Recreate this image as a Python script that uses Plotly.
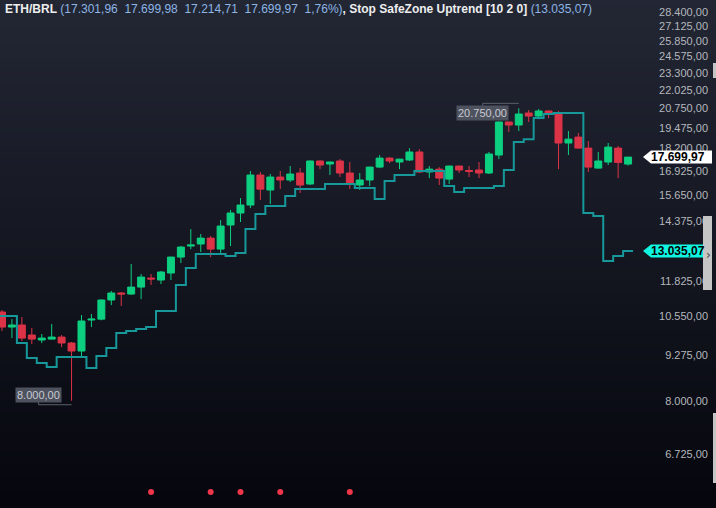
import math
import plotly.graph_objects as go

# ---------------- data ----------------
idx = list(range(64))

open_ = [10684, 10172, 10240, 9911, 9752, 9780, 9845, 9657, 9408, 10409,
         10438, 11110, 11366, 11329, 11587, 11932, 11858, 12131, 12778, 13246,
         13334, 13593, 13114, 14185, 14751, 15140, 16696, 15901, 16586, 16428,
         16806, 16214, 17477, 17305, 17477, 16806, 16160, 16428, 17134, 17642,
         17420, 17534, 17997, 16861, 17019, 16475, 17191, 16944, 16972, 16806,
         17820, 19845, 19650, 20435, 20233, 20570, 20435, 18532, 18894, 18227,
         17076, 17420, 18227, 17301.96]

high = [10754, 10438, 10508, 10138, 9944, 10273, 9911, 9688, 10578, 10614,
        11130, 11441, 11403, 12492, 12091, 12091, 12211, 12790, 13246, 13997,
        13775, 13684, 14420, 14897, 15487, 16917, 16862, 16751, 16917, 17191,
        17076, 17500, 17500, 17440, 17583, 17420, 16806, 17150, 17820, 17701,
        17600, 18227, 18166, 17191, 17134, 17210, 17210, 17191, 17420, 17997,
        19870, 19875, 20750, 20637, 20700, 20600, 20570, 19272, 19146, 18654,
        17997, 18532, 18349, 17699.98]

low = [10042, 9813, 9720, 9625, 9657, 9770, 9529, 8000, 9254, 10172,
       10400, 10929, 10893, 11291, 11141, 11664, 11703, 11858, 12533, 13114,
       12991, 12778, 12906, 13246, 14326, 14993, 15391, 15190, 15954, 16321,
       15746, 16160, 17019, 16696, 16586, 15954, 15901, 16107, 17076, 17362,
       17019, 17477, 16806, 16530, 16160, 16214, 16806, 16586, 16530, 16751,
       17583, 19209, 19272, 19845, 20031, 20099, 17019, 17820, 18200, 16861,
       17050, 17248, 16530, 17214.71]

close = [10172, 10240, 9813, 9780, 9813, 9845, 9657, 9408, 10375, 10438,
         11110, 11366, 11329, 11587, 11972, 11897, 12171, 12778, 13202, 13290,
         13593, 13114, 14138, 14751, 15140, 16696, 15946, 16586, 16428, 16751,
         16160, 17477, 17248, 17420, 16806, 16214, 16428, 17134, 17642, 17477,
         17583, 17997, 16861, 17019, 16530, 17191, 16972, 16889, 16806, 17879,
         19845, 19650, 20368, 20233, 20570, 20435, 18532, 18768, 18227, 17134,
         17477, 18288, 17394, 17699.97]

stop = [10545, 10545, 9657, 9193, 9048, 8928, 9223, 9223, 9223, 8898,
        9254, 9498, 9977, 10042, 10104, 10172, 10719, 10719, 11664, 12327,
        12906, 12906, 12906, 12821, 12948, 13997, 14702, 15090, 15090, 15590,
        15954, 15954, 15954, 16214, 16214, 16214, 16000, 16000, 15435, 16373,
        16696, 16696, 16917, 16917, 16917, 16107, 15797, 16000, 16000, 16000,
        16107, 16972, 18593, 18768, 20105, 20371, 20441, 20441, 20441, 14751,
        14604, 12616, 12821, 13035.07]

signal_idx = [15, 21, 24, 28, 35]

tick_vals = [6725, 8000, 9275, 10550, 11825, 14375, 15650, 16925, 18200,
             19475, 20750, 22025, 23300, 24575, 25850, 27125, 28400]

symbol = "ETH/BRL"
indicator = "Stop SafeZone Uptrend [10 2 0]"

# ---------------- helpers ----------------
W, H = 716, 508
Y_LO, Y_HI = 5640, 29537
yr = [math.log10(Y_LO), math.log10(Y_HI)]
XR = [-0.2, 64.2]
XDOM = 640 / W


def fmt(v):
    s = f"{v:,.2f}"
    return s.replace(",", "X").replace(".", ",").replace("X", ".")


def px(x):
    return x / W


def py(y):
    return 1 - y / H


def xp(i, dx=0.0):
    """paper x of candle index i, shifted by dx pixels"""
    return (i - XR[0]) / (XR[1] - XR[0]) * XDOM + dx / W


def yp(v, dy=0.0):
    """paper y of price v, shifted by dy pixels (positive = down)"""
    return (math.log10(v) - yr[0]) / (yr[1] - yr[0]) - dy / H


INC = "#0ccf80"
DEC = "#dc3347"
STOP = "#17989a"
BLUE = "#8db5e4"

fig = go.Figure()

fig.add_trace(go.Candlestick(
    x=idx, open=open_, high=high, low=low, close=close,
    increasing=dict(line=dict(color=INC, width=1), fillcolor=INC),
    decreasing=dict(line=dict(color=DEC, width=1), fillcolor=DEC),
    showlegend=False, hoverinfo="skip",
))

# step line: each value spans its candle slot
xs = [i - 0.5 for i in idx] + [idx[-1] + 0.5]
ys = stop + [stop[-1]]
fig.add_trace(go.Scatter(
    x=xs, y=ys, mode="lines",
    line=dict(color=STOP, width=2, shape="hv"),
    showlegend=False, hoverinfo="skip",
))

sig_y = 10 ** (yr[0] + (1 - 492 / H) * (yr[1] - yr[0]))
fig.add_trace(go.Scatter(
    x=signal_idx, y=[sig_y] * len(signal_idx), mode="markers",
    marker=dict(color="#f0364a", size=6),
    showlegend=False, hoverinfo="skip",
))

# ---------------- background gradient ----------------
shapes = []
N = 80
top = (35, 39, 52)
bot = (5, 6, 13)
for k in range(N):
    t = (k + 0.5) / N
    c = tuple(round(top[j] + (bot[j] - top[j]) * t) for j in range(3))
    shapes.append(dict(type="rect", xref="paper", yref="paper", x0=0, x1=1,
                       y0=max(0, 1 - (k + 1) / N - 0.002), y1=1 - k / N,
                       fillcolor=f"rgb({c[0]},{c[1]},{c[2]})",
                       line=dict(width=0), layer="below"))

annotations = []

# ---------------- high / low markers ----------------
hi_i = high.index(max(high))
lo_i = low.index(min(low))
LBL_BG = "#4e525e"
LBL_FG = "#c6cad2"
LINE_C = "#5d616c"


def path(points):
    return "M" + " L".join(f"{x:.5f},{y:.5f}" for x, y in points)


hv = high[hi_i]
annotations.append(dict(x=xp(hi_i, -36), y=yp(hv, 5), xref="paper", yref="paper",
                        xanchor="center", yanchor="middle",
                        text=fmt(hv), showarrow=False, bgcolor=LBL_BG, borderpad=1,
                        font=dict(family="Liberation Sans", size=11, color=LBL_FG)))
shapes.append(dict(type="path", xref="paper", yref="paper",
                   path=path([(xp(hi_i, -36), yp(hv, -1)), (xp(hi_i, -36), yp(hv, -5)),
                              (xp(hi_i, 0), yp(hv, -5))]),
                   line=dict(color=LINE_C, width=1)))
lv = low[lo_i]
annotations.append(dict(x=xp(lo_i, -33), y=yp(lv, -6), xref="paper", yref="paper",
                        xanchor="center", yanchor="middle",
                        text=fmt(lv), showarrow=False, bgcolor=LBL_BG, borderpad=1,
                        font=dict(family="Liberation Sans", size=11, color=LBL_FG)))
shapes.append(dict(type="path", xref="paper", yref="paper",
                   path=path([(xp(lo_i, -33), yp(lv, 1)), (xp(lo_i, -33), yp(lv, 4)),
                              (xp(lo_i, 0), yp(lv, 4))]),
                   line=dict(color=LINE_C, width=1)))


# ---------------- price tags on the axis ----------------
def price_tag(v, fill):
    pts = [(px(643), yp(v)), (px(651), yp(v, -6.5)), (px(712), yp(v, -6.5)),
           (px(712), yp(v, 6.5)), (px(651), yp(v, 6.5))]
    shapes.append(dict(type="path", xref="paper", yref="paper", path=path(pts) + " Z",
                       fillcolor=fill, line=dict(width=0), layer="above"))
    annotations.append(dict(xref="paper", yref="paper", x=px(650), y=yp(v),
                            xanchor="left", yanchor="middle", text=f"<b>{fmt(v)}</b>",
                            showarrow=False, borderpad=0,
                            font=dict(family="Liberation Sans", size=12, color="#000000")))


price_tag(close[-1], "#ffffff")
price_tag(stop[-1], "#10f5e2")

# scrollbar-like UI pieces at the right edge
shapes.append(dict(type="rect", xref="paper", yref="paper", x0=px(703), x1=px(712),
                   y0=py(290), y1=py(216), fillcolor="#c5c5c5", line=dict(width=0),
                   layer="above"))
shapes.append(dict(type="rect", xref="paper", yref="paper", x0=px(713), x1=1,
                   y0=py(78), y1=py(63), fillcolor="#c5c5c5", line=dict(width=0),
                   layer="above"))
shapes.append(dict(type="rect", xref="paper", yref="paper", x0=px(713), x1=1,
                   y0=py(483), y1=py(413), fillcolor="#c5c5c5", line=dict(width=0),
                   layer="above"))
annotations.append(dict(xref="paper", yref="paper", x=px(708.5), y=py(255),
                        text="›", showarrow=False, xanchor="center", yanchor="middle",
                        font=dict(family="DejaVu Sans", size=12, color="#444444")))

# ---------------- header ----------------
pct = (close[-1] / close[-2] - 1) * 100
sp = "\u00a0\u00a0"
ohlc_txt = sp.join([fmt(open_[-1]), fmt(high[-1]), fmt(low[-1]), fmt(close[-1]),
                    f"{pct:.2f}".replace(".", ",") + "%"])
header = (f"<b>{symbol}</b> <span style='color:{BLUE}'>({ohlc_txt})</span>"
          f"<b>, {indicator}</b> <span style='color:{BLUE}'>({fmt(stop[-1])})</span>")
annotations.append(dict(xref="paper", yref="paper", x=px(3), y=py(9.5),
                        xanchor="left", yanchor="middle", text=header, showarrow=False,
                        font=dict(family="Liberation Sans", size=12, color="#eeeeee")))

fig.update_layout(
    width=W, height=H,
    margin=dict(l=0, r=0, t=0, b=0),
    paper_bgcolor="rgb(12,14,22)",
    plot_bgcolor="rgba(0,0,0,0)",
    template="none",
    showlegend=False,
    shapes=shapes,
    annotations=annotations,
    boxgap=0.3, boxgroupgap=0,
    xaxis=dict(domain=[0, XDOM], range=XR, visible=False,
               rangeslider=dict(visible=False), showgrid=False, zeroline=False),
    yaxis=dict(type="log", range=yr, anchor="free", position=px(708), side="left",
               showgrid=False, zeroline=False, showline=False, ticks="",
               tickvals=tick_vals, ticktext=[fmt(v) for v in tick_vals],
               tickfont=dict(family="Liberation Sans", size=11, color="#b4b7bd")),
)

fig.write_html("out.html",
               config={"displayModeBar": False},
               post_script="document.body.style.margin='0';document.body.style.padding='0';")
